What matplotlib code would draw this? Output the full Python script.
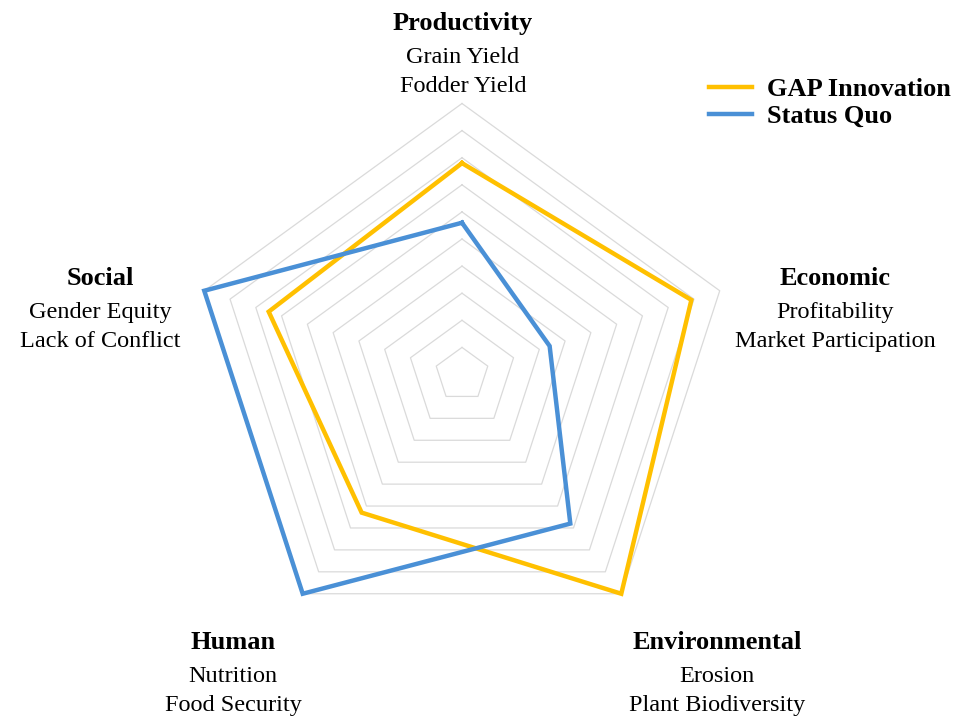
import numpy as np
import matplotlib
matplotlib.use("Agg")
import matplotlib.pyplot as plt


# ============================================================
# DATOS
# ============================================================

DIMENSIONS = ["Productivity", "Economic", "Environmental", "Human", "Social"]
SUB_LABELS = [
    ["Grain Yield", "Fodder Yield"],
    ["Profitability", "Market Participation"],
    ["Erosion", "Plant Biodiversity"],
    ["Nutrition", "Food Security"],
    ["Gender Equity", "Lack of Conflict"],
]

GAP_INNOVATION = [7.8, 8.9, 10.0, 6.3, 7.5]
STATUS_QUO = [5.6, 3.4, 6.8, 10.0, 10.0]

N_RINGS = 10
MAX_VALUE = 10.0

COLOR_GAP = "#FFC000"
COLOR_SQ = "#4A90D6"
COLOR_GRID = "#DADADA"

# ============================================================
# GEOMETRÍA (pixeles de la figura)
# ============================================================

W, H = 971, 719
CX, CY = 462, 374.5      # centro del radar en px
R_PX = 271               # radio del anillo exterior en px
U = R_PX / MAX_VALUE     # px por unidad

plt.rcParams["font.family"] = ["Liberation Serif", "DejaVu Serif"]

fig = plt.figure(figsize=(W / 100, H / 100), dpi=100)
ax = fig.add_axes([0, 0, 1, 1])
ax.set_xlim(-CX / U, (W - CX) / U)
ax.set_ylim(-(H - CY) / U, CY / U)
ax.axis("off")

angles = np.deg2rad(90 - 72 * np.arange(len(DIMENSIONS)))


def polygon(values):
    values = np.asarray(values, dtype=float)
    x = values * np.cos(angles)
    y = values * np.sin(angles)
    return np.append(x, x[0]), np.append(y, y[0])


# anillos pentagonales
for k in range(1, N_RINGS + 1):
    x, y = polygon([MAX_VALUE * k / N_RINGS] * len(DIMENSIONS))
    ax.plot(x, y, color=COLOR_GRID, linewidth=0.9, zorder=1)

# series
x, y = polygon(GAP_INNOVATION)
ax.plot(x, y, color=COLOR_GAP, linewidth=3.2, solid_joinstyle="miter",
        label="GAP Innovation", zorder=3)
x, y = polygon(STATUS_QUO)
ax.plot(x, y, color=COLOR_SQ, linewidth=3.2, solid_joinstyle="miter",
        label="Status Quo", zorder=4)

# etiquetas de ejes (x centro, y línea base del título, en px)
LABEL_POS = [(463, 30), (835, 285), (717, 649), (233, 649), (100, 285)]
SUB_OFFSETS = [33, 62]

for name, subs, (px, py) in zip(DIMENSIONS, SUB_LABELS, LABEL_POS):
    fig.text(px / W, 1 - py / H, name, ha="center", va="baseline",
             fontsize=19, fontweight="bold")
    for off, s in zip(SUB_OFFSETS, subs):
        fig.text(px / W, 1 - (py + off) / H, s,
                 ha="center", va="baseline", fontsize=17.5)

# leyenda
handles, labels = ax.get_legend_handles_labels()
leg = fig.legend(
    handles, labels,
    loc="upper left",
    bbox_to_anchor=(709 / W, 1 - 78 / H),
    frameon=False,
    borderaxespad=0,
    borderpad=0,
    handlelength=1.63,
    handletextpad=0.57,
    labelspacing=0.12,
    prop={"family": ["Liberation Serif"], "weight": "bold", "size": 19},
)

fig.savefig("out.png", dpi=100)
